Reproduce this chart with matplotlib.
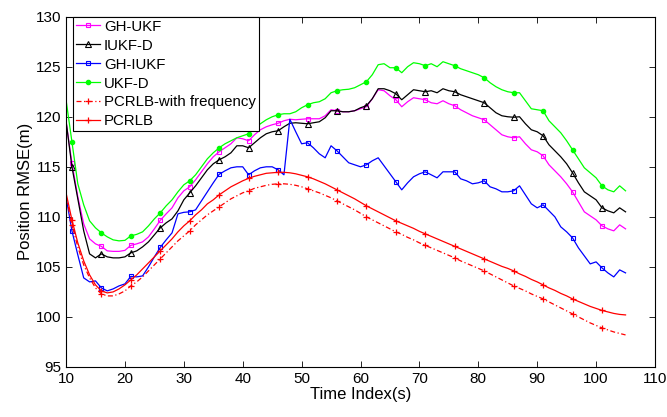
import numpy as np
import matplotlib
matplotlib.use('Agg')
import matplotlib.pyplot as plt

plt.rcParams['font.family'] = ['Liberation Sans', 'DejaVu Sans']

t = list(range(10, 106))

gh_ukf = [119.5, 115.4, 112.0, 109.3, 107.8, 107.3, 107.05, 106.6, 106.55, 106.55,
          106.65, 107.15, 107.3, 107.5, 108.0, 108.8, 109.65, 110.3, 110.9, 111.9,
          112.6, 113.0, 113.7, 114.5, 115.3, 116.0, 116.5, 116.9, 117.3, 117.9,
          117.8, 117.6, 118.2, 118.7, 119.0, 119.2, 119.35, 119.6, 119.75, 119.7,
          119.75, 119.8, 119.8, 119.8, 120.1, 120.7, 120.6, 120.5, 120.5, 120.6,
          120.8, 121.0, 121.8, 122.7, 122.6, 122.1, 121.7, 121.0, 121.5, 121.9,
          121.8, 121.7, 121.4, 121.3, 121.6, 121.3, 121.1, 120.7, 120.4, 120.1,
          119.9, 119.7, 119.2, 118.7, 118.2, 118.0, 117.9, 118.0, 117.3, 116.7,
          116.5, 116.1, 115.2, 114.6, 114.0, 113.3, 112.5, 111.5, 110.5, 110.1,
          109.7, 109.1, 108.8, 108.6, 109.2, 108.8]

iukf_d = [119.6, 115.0, 111.8, 108.6, 106.3, 105.9, 106.3, 106.0, 105.9, 105.9,
          106.0, 106.4, 106.6, 107.0, 107.5, 108.2, 108.9, 109.4, 109.8, 110.6,
          111.7, 112.4, 113.1, 113.9, 114.7, 115.3, 115.7, 116.0, 116.4, 117.1,
          117.1, 116.9, 117.4, 117.9, 118.3, 118.5, 118.6, 119.0, 119.35, 119.4,
          119.35, 119.3, 119.4, 119.5, 119.9, 120.6, 120.6, 120.5, 120.5, 120.6,
          120.9, 121.1, 121.8, 122.8, 122.8, 122.6, 122.3, 121.7, 122.2, 122.7,
          122.6, 122.5, 122.6, 122.4, 122.8, 122.6, 122.5, 122.2, 122.0, 121.8,
          121.6, 121.4, 120.9, 120.4, 120.1, 120.0, 119.95, 120.0, 119.3, 118.7,
          118.5, 118.1, 117.2, 116.6, 116.0, 115.3, 114.4, 113.4, 112.5, 112.1,
          111.7, 110.9, 110.6, 110.4, 110.9, 110.5]

gh_iukf = [112.0, 108.6, 106.2, 103.9, 103.5, 103.6, 102.9, 102.6, 102.8, 103.1,
           103.3, 104.05, 104.0, 104.1, 105.0, 106.0, 106.95, 107.7, 108.4, 110.3,
           110.45, 110.5, 110.7, 111.6, 112.5, 113.4, 114.25, 114.6, 114.9, 115.0,
           115.0, 114.2, 114.6, 114.9, 115.0, 115.0, 114.7, 114.2, 119.75, 118.5,
           117.3, 117.4, 116.9, 116.3, 115.9, 117.1, 116.6, 116.0, 115.4, 115.2,
           115.0, 115.2, 115.6, 115.9, 115.1, 114.3, 113.5, 112.7, 113.4, 114.0,
           114.3, 114.5, 114.2, 113.9, 114.5, 114.5, 114.5, 113.8, 113.6, 113.3,
           113.4, 113.6, 113.0, 112.8, 112.5, 112.5, 112.6, 113.1, 112.2, 111.3,
           110.9, 111.2, 110.6, 110.0, 109.0, 108.5, 107.9, 106.9, 106.1, 105.3,
           105.5, 104.9, 104.4, 104.0, 104.7, 104.4]

ukf_d = [121.7, 117.5, 113.3, 111.2, 109.6, 108.9, 108.4, 108.0, 107.7, 107.6,
         107.65, 108.1, 108.25, 108.5, 109.1, 109.8, 110.4, 111.1, 111.7, 112.5,
         113.2, 113.6, 114.2, 115.0, 115.8, 116.4, 116.9, 117.3, 117.6, 117.9,
         118.1, 118.3, 118.8, 119.3, 119.7, 120.0, 120.2, 120.3, 120.3, 120.5,
         120.9, 121.2, 121.4, 121.5, 121.8, 122.4, 122.6, 122.7, 122.75, 122.9,
         123.2, 123.5, 124.2, 125.2, 125.3, 124.9, 124.9, 124.4, 125.0, 125.4,
         125.3, 125.1, 125.3, 125.0, 125.5, 125.3, 125.1, 124.8, 124.6, 124.4,
         124.2, 123.9, 123.4, 123.0, 122.7, 122.5, 122.4, 122.4, 121.6, 120.8,
         120.7, 120.6, 119.6, 119.0, 118.4, 117.6, 116.7, 115.8, 114.9, 114.4,
         113.9, 113.1, 112.7, 112.5, 113.1, 112.6]

pcrlb_freq = [112.1, 109.2, 107.0, 105.2, 103.9, 102.9, 102.3, 102.1, 102.1, 102.3,
              102.6, 103.1, 103.5, 104.0, 104.6, 105.2, 105.8, 106.4, 107.0, 107.6,
              108.1, 108.6, 109.2, 109.7, 110.2, 110.6, 111.0, 111.4, 111.8, 112.1,
              112.4, 112.6, 112.85, 113.0, 113.15, 113.25, 113.3, 113.3, 113.25, 113.15,
              113.0, 112.8, 112.6, 112.4, 112.15, 111.9, 111.6, 111.3, 111.0, 110.7,
              110.35, 110.0, 109.7, 109.4, 109.1, 108.8, 108.5, 108.25, 107.95, 107.7,
              107.4, 107.15, 106.9, 106.65, 106.4, 106.15, 105.9, 105.6, 105.35, 105.1,
              104.85, 104.6, 104.3, 104.0, 103.7, 103.4, 103.1, 102.85, 102.6, 102.3,
              102.05, 101.8, 101.5, 101.2, 100.9, 100.6, 100.3, 100.0, 99.7, 99.4,
              99.15, 98.9, 98.7, 98.5, 98.35, 98.2]

pcrlb = [112.4, 109.7, 107.4, 105.6, 104.2, 103.2, 102.6, 102.4, 102.5, 102.8,
         103.2, 103.7, 104.2, 104.8, 105.4, 106.0, 106.6, 107.2, 107.8, 108.5,
         109.1, 109.6, 110.2, 110.7, 111.3, 111.7, 112.2, 112.6, 113.0, 113.3,
         113.6, 113.85, 114.05, 114.2, 114.35, 114.4, 114.45, 114.45, 114.4, 114.3,
         114.15, 114.0, 113.8, 113.55, 113.3, 113.0, 112.7, 112.4, 112.1, 111.8,
         111.45, 111.1, 110.8, 110.5, 110.2, 109.9, 109.6, 109.35, 109.1, 108.85,
         108.55, 108.3, 108.05, 107.8, 107.55, 107.3, 107.05, 106.8, 106.55, 106.3,
         106.05, 105.8, 105.55, 105.3, 105.05, 104.85, 104.6, 104.3, 104.05, 103.75,
         103.5, 103.2, 102.9, 102.65, 102.35, 102.1, 101.8, 101.55, 101.3, 101.05,
         100.85, 100.65, 100.5, 100.35, 100.25, 100.2]

fig = plt.figure(figsize=(6.67, 4.17), dpi=100)
ax = fig.add_axes([0.099, 0.12, 0.883, 0.84])

me = (1, 5)
ax.plot(t, gh_ukf, color='#ff00ff', lw=0.9, marker='s', ms=3.5, mfc='none', mew=0.8,
        markevery=me, label='GH-UKF')
ax.plot(t, iukf_d, color='black', lw=0.9, marker='^', ms=4.5, mfc='none', mew=0.8,
        markevery=me, label='IUKF-D')
ax.plot(t, gh_iukf, color='#0000ff', lw=0.9, marker='s', ms=3.5, mfc='none', mew=0.8,
        markevery=me, label='GH-IUKF')
ax.plot(t, ukf_d, color='#00ff00', lw=0.9, marker='o', ms=3, mfc='#00ff00', mec='#00ff00',
        markevery=me, label='UKF-D')
ax.plot(t, pcrlb_freq, color='#ff0000', lw=0.9, ls=(0, (4, 2, 1, 2)), marker='+', ms=4.5,
        mew=0.9, markevery=me, label='PCRLB-with frequency')
ax.plot(t, pcrlb, color='#ff0000', lw=0.9, marker='+', ms=4.5, mew=0.9,
        markevery=me, label='PCRLB')

ax.set_xlim(10, 110)
ax.set_ylim(95, 130)
ax.set_xticks(range(10, 111, 10))
ax.set_yticks(range(95, 131, 5))
ax.tick_params(direction='in', top=True, right=True, labelsize=11, length=4, width=0.6)
for s in ax.spines.values():
    s.set_linewidth(0.8)
ax.set_xlabel('Time Index(s)', fontsize=12, labelpad=1)
ax.set_ylabel('Position RMSE(m)', fontsize=12, labelpad=2)

leg = ax.legend(loc='upper left', fontsize=10.8, frameon=True, fancybox=False,
                edgecolor='black', framealpha=1, borderaxespad=0.0,
                handlelength=1.6, handletextpad=0.25, labelspacing=0.33,
                borderpad=0.2, bbox_to_anchor=(0.012, 1.0))
leg.get_frame().set_linewidth(0.8)

fig.savefig('out.png', dpi=100)
